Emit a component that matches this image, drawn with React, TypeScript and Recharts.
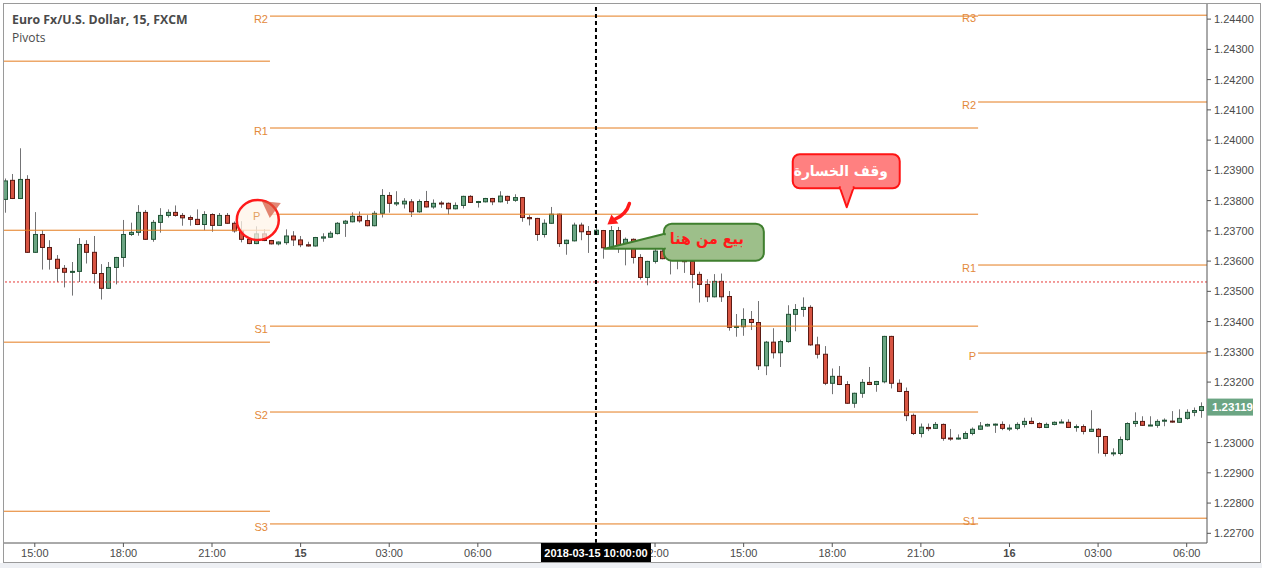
import { Bar, ComposedChart, ReferenceDot, ReferenceLine, XAxis, YAxis } from 'recharts'

// EUR/USD 15m candles, 14:00 (14 Mar) .. 06:30 (16 Mar)
const opens = [
  1.23804, 1.23867, 1.23807, 1.2387, 1.23629, 1.23688, 1.23645, 1.23606, 1.23576, 1.23563,
  1.23566, 1.23655, 1.23629, 1.23559, 1.2351, 1.23579, 1.23612, 1.23688, 1.23695, 1.23761,
  1.23672, 1.23728, 1.23751, 1.23761, 1.23751, 1.23744, 1.23738, 1.23721, 1.23754, 1.23718,
  1.23751, 1.23725, 1.237, 1.23672, 1.23658, 1.2369, 1.23668, 1.23657, 1.23661, 1.23683,
  1.2367, 1.23654, 1.2365, 1.23676, 1.23679, 1.23691, 1.23725, 1.2373, 1.23748, 1.23734,
  1.23717, 1.23758, 1.23817, 1.23789, 1.23789, 1.23796, 1.23763, 1.23797, 1.23779, 1.23792,
  1.23791, 1.23773, 1.23784, 1.23814, 1.23794, 1.23796, 1.23807, 1.23796, 1.23814, 1.23801,
  1.2381, 1.23744, 1.23741, 1.23688, 1.23725, 1.23755, 1.23658, 1.23667, 1.23719, 1.23698,
  1.23688, 1.23701, 1.23644, 1.23701, 1.23647, 1.23672, 1.23612, 1.23546, 1.23599, 1.23633,
  1.23609, 1.23631, 1.2362, 1.23599, 1.23556, 1.23523, 1.23482, 1.23533, 1.23483, 1.23381,
  1.23383, 1.23407, 1.23397, 1.23254, 1.23332, 1.23297, 1.23334, 1.23424, 1.2344, 1.23447,
  1.23323, 1.23292, 1.23196, 1.23219, 1.23192, 1.2313, 1.23163, 1.23199, 1.23192, 1.23201,
  1.23351, 1.23196, 1.23169, 1.2309, 1.2303, 1.2305, 1.23047, 1.2306, 1.23015, 1.23012,
  1.23014, 1.2303, 1.23044, 1.23055, 1.23059, 1.2306, 1.23046, 1.23047, 1.2306, 1.2307,
  1.23063, 1.2305, 1.2306, 1.23066, 1.23067, 1.2305, 1.23053, 1.23037, 1.23044, 1.2302,
  1.22964, 1.22964, 1.2301, 1.23063, 1.2307, 1.23056, 1.23057, 1.23072, 1.23071, 1.23067,
  1.2308, 1.231, 1.23106,
]
const highs = [
  1.23873, 1.23888, 1.23973, 1.23884, 1.23762, 1.23702, 1.23669, 1.2362, 1.23587, 1.23597,
  1.23676, 1.23669, 1.23683, 1.2359, 1.23597, 1.23614, 1.23736, 1.23727, 1.23785, 1.23769,
  1.23736, 1.23775, 1.23771, 1.23784, 1.23759, 1.23751, 1.23771, 1.23765, 1.23758, 1.23759,
  1.23759, 1.23731, 1.23732, 1.23674, 1.23715, 1.23706, 1.2367, 1.23665, 1.23705, 1.23699,
  1.23683, 1.23664, 1.2368, 1.23692, 1.23699, 1.23729, 1.23736, 1.23761, 1.23764, 1.23752,
  1.23766, 1.23838, 1.23828, 1.23831, 1.23808, 1.23805, 1.23804, 1.23832, 1.23804, 1.23799,
  1.23794, 1.23794, 1.23816, 1.23818, 1.23799, 1.23809, 1.23809, 1.23831, 1.23816, 1.23821,
  1.23812, 1.23752, 1.23743, 1.23738, 1.23779, 1.23757, 1.23671, 1.23727, 1.23727, 1.23716,
  1.23719, 1.23703, 1.23716, 1.23713, 1.23678, 1.23675, 1.23623, 1.23601, 1.23675, 1.23658,
  1.23658, 1.2364, 1.23625, 1.23602, 1.23565, 1.2354, 1.23557, 1.23559, 1.23501, 1.23425,
  1.23444, 1.23435, 1.23468, 1.23336, 1.23378, 1.2334, 1.23454, 1.23458, 1.2348, 1.23454,
  1.2335, 1.23319, 1.23245, 1.23253, 1.23203, 1.23165, 1.2321, 1.2325, 1.23204, 1.23353,
  1.23353, 1.23209, 1.23182, 1.23096, 1.23063, 1.23063, 1.23068, 1.23063, 1.23045, 1.23027,
  1.23037, 1.2305, 1.23068, 1.23063, 1.23063, 1.2307, 1.2306, 1.23067, 1.23082, 1.23083,
  1.23067, 1.23066, 1.2307, 1.23077, 1.23077, 1.2306, 1.2306, 1.23107, 1.23048, 1.23022,
  1.22981, 1.2302, 1.23067, 1.231, 1.23087, 1.23087, 1.23077, 1.2308, 1.23104, 1.2311,
  1.2311, 1.23116, 1.23133,
]
const lows = [
  1.2376, 1.23805, 1.23805, 1.23627, 1.23627, 1.23572, 1.23572, 1.23531, 1.23513, 1.23486,
  1.23531, 1.23592, 1.23526, 1.23473, 1.23508, 1.23523, 1.23581, 1.23683, 1.23684, 1.2367,
  1.23664, 1.23694, 1.23744, 1.23747, 1.23717, 1.23717, 1.23719, 1.23702, 1.23697, 1.23716,
  1.23723, 1.23694, 1.23662, 1.23656, 1.23656, 1.23666, 1.23655, 1.23652, 1.23654, 1.2365,
  1.23646, 1.23648, 1.23648, 1.23664, 1.23677, 1.23688, 1.2368, 1.23728, 1.23727, 1.23715,
  1.23715, 1.23744, 1.2376, 1.23782, 1.23774, 1.23746, 1.2376, 1.23777, 1.23773, 1.23776,
  1.23754, 1.23771, 1.23774, 1.23792, 1.23777, 1.23794, 1.23785, 1.23794, 1.23789, 1.23796,
  1.2373, 1.23718, 1.23667, 1.23678, 1.23723, 1.23647, 1.23621, 1.23665, 1.23669, 1.23627,
  1.23686, 1.23608, 1.23642, 1.23627, 1.23586, 1.23592, 1.23539, 1.2352, 1.23592, 1.23606,
  1.23556, 1.23573, 1.23561, 1.2351, 1.23463, 1.23465, 1.2348, 1.23465, 1.2337, 1.2335,
  1.23353, 1.23372, 1.2324, 1.23223, 1.23278, 1.2325, 1.2333, 1.23368, 1.23416, 1.2332,
  1.23278, 1.2319, 1.2316, 1.2319, 1.23128, 1.23115, 1.23148, 1.2319, 1.23168, 1.23196,
  1.23179, 1.23167, 1.23071, 1.23025, 1.23017, 1.23038, 1.23045, 1.23006, 1.23006, 1.2301,
  1.23012, 1.23024, 1.23042, 1.23053, 1.23032, 1.23041, 1.23038, 1.23041, 1.2305, 1.23061,
  1.23047, 1.23048, 1.23057, 1.23066, 1.23048, 1.23036, 1.23027, 1.23035, 1.22964, 1.22954,
  1.22955, 1.22958, 1.23006, 1.23052, 1.23055, 1.23055, 1.23049, 1.23054, 1.23066, 1.23065,
  1.23076, 1.23087, 1.23082,
]
const closes = [
  1.23865, 1.23807, 1.2387, 1.23629, 1.23688, 1.23645, 1.23606, 1.23576, 1.23563, 1.23566,
  1.23655, 1.23629, 1.23559, 1.2351, 1.23579, 1.23612, 1.23688, 1.23695, 1.23761, 1.23672,
  1.23728, 1.23751, 1.23761, 1.23751, 1.23743, 1.23738, 1.23721, 1.23754, 1.23718, 1.23751,
  1.23725, 1.237, 1.23672, 1.23658, 1.2369, 1.23668, 1.23657, 1.23663, 1.23683, 1.2367,
  1.23654, 1.2365, 1.23678, 1.2368, 1.23692, 1.23725, 1.23732, 1.23748, 1.23733, 1.23717,
  1.23758, 1.23817, 1.23791, 1.23793, 1.23798, 1.23763, 1.23797, 1.23779, 1.23791, 1.2379,
  1.23773, 1.23784, 1.23814, 1.23794, 1.23797, 1.23807, 1.23796, 1.23815, 1.23801, 1.2381,
  1.23744, 1.2374, 1.23688, 1.23725, 1.23755, 1.23658, 1.23669, 1.23719, 1.23697, 1.23688,
  1.23702, 1.23644, 1.23701, 1.23647, 1.23672, 1.23612, 1.23546, 1.23599, 1.23633, 1.23608,
  1.23631, 1.2362, 1.23598, 1.23556, 1.23523, 1.23482, 1.23533, 1.23482, 1.23381, 1.23384,
  1.23407, 1.23397, 1.23254, 1.23332, 1.23297, 1.23334, 1.23424, 1.2344, 1.23447, 1.23323,
  1.23292, 1.23196, 1.23219, 1.23192, 1.2313, 1.23163, 1.23199, 1.23192, 1.23202, 1.23351,
  1.23196, 1.23169, 1.23089, 1.2303, 1.23051, 1.23046, 1.2306, 1.23014, 1.23012, 1.23015,
  1.2303, 1.23044, 1.23055, 1.2306, 1.23061, 1.23047, 1.23048, 1.2306, 1.2307, 1.23063,
  1.2305, 1.2306, 1.23067, 1.23068, 1.2305, 1.23053, 1.23037, 1.23044, 1.2302, 1.22964,
  1.22966, 1.2301, 1.23063, 1.2307, 1.23057, 1.23058, 1.2307, 1.23074, 1.23068, 1.2308,
  1.231, 1.23106, 1.23119,
]

// time axis: candle index -> label (09:00 sits under the cursor label, so it is left out)
const timeTicks = [4, 16, 28, 40, 52, 64, 88, 100, 112, 124, 136, 148, 160]
const timeLabels = ['15:00', '18:00', '21:00', '15', '03:00', '06:00', '12:00', '15:00', '18:00', '21:00', '16', '03:00', '06:00']
const dayTicks = [40, 136]
const cursorIdx = 80
const cursorLabel = '2018-03-15 10:00:00'

// 1.23100 is covered by the last-price badge
const priceTicks = [
  1.227, 1.228, 1.229, 1.23, 1.232, 1.233, 1.234, 1.235,
  1.236, 1.237, 1.238, 1.239, 1.24, 1.241, 1.242, 1.243, 1.244,
]
const lastPrice = 1.23119
const prevClose = 1.23531

// pivot sessions: [start index, end index]
const sessions = [
  [-0.17, 35.85],
  [35.85, 131.75],
  [131.75, 162.75],
]
const day1Names = ['R1', 'P', 'S1', 'S2']
const day1Levels = [1.24261, 1.23702, 1.23332, 1.22773]
const day2Names = ['R2', 'R1', 'P', 'S1', 'S2', 'S3']
const day2Levels = [1.2441, 1.2404, 1.23755, 1.23385, 1.23101, 1.22731]
const day3Names = ['R3', 'R2', 'R1', 'P', 'S1']
const day3Levels = [1.24413, 1.24126, 1.23587, 1.23296, 1.2275]

// annotations anchored in data space
const stopNote = { i: 113.96, price: 1.23778, text: 'وقف الخسارة' }
const sellNote = { i: 81.2, price: 1.23641, text: 'بيع من هنا' }
const arrowNote = { i: 81.55, price: 1.23721 }
const pivotRing = { i: 34.2, price: 1.23736 }

const UP = '#6ba583'
const UP_EDGE = '#225437'
const DOWN = '#d75442'
const DOWN_EDGE = '#5b1a13'
const PIVOT = '#e47c1e'
const AXIS_FONT = '"Liberation Sans", Arial, sans-serif'
const ARABIC_FONT = '"DejaVu Sans", sans-serif'

const data = opens.map((o, i) => ({
  i,
  o,
  h: highs[i],
  l: lows[i],
  c: closes[i],
  range: [lows[i], highs[i]],
}))

function Candle(props: any) {
  const { x, y, width, height, payload } = props
  const top = Math.min(y, y + height)
  const span = Math.abs(height)
  const { o, c, h, l } = payload
  const k = h > l ? span / (h - l) : 0
  const py = (v: number) => top + (h - v) * k
  const cx = Math.round(x + width / 2) + 0.5
  const up = c >= o
  const bTop = py(Math.max(o, c))
  const bBot = py(Math.min(o, c))
  return (
    <g>
      <line x1={cx} x2={cx} y1={top} y2={top + span} stroke="#737375" />
      <rect
        x={cx - 2}
        y={bTop}
        width={4}
        height={Math.max(bBot - bTop, 1)}
        fill={up ? UP : DOWN}
        stroke={up ? UP_EDGE : DOWN_EDGE}
      />
    </g>
  )
}

function TimeTick(props: any) {
  const { x, y, payload } = props
  const v = payload.value
  if (v === cursorIdx) {
    return (
      <g>
        <rect x={x - 55} y={y - 4} width={110} height={19} fill="#000" />
        <text x={x} y={y + 10} textAnchor="middle" fill="#fff" fontSize={11} fontWeight="bold" fontFamily={AXIS_FONT}>
          {cursorLabel}
        </text>
      </g>
    )
  }
  const label = timeLabels[timeTicks.indexOf(v)]
  return (
    <g>
      <line x1={x} x2={x} y1={y - 4} y2={y} stroke="#555" />
      <text
        x={x}
        y={y + 10}
        textAnchor="middle"
        fill="#4a4a4a"
        fontSize={11}
        fontWeight={dayTicks.includes(v) ? 'bold' : 'normal'}
        fontFamily={AXIS_FONT}
      >
        {label}
      </text>
    </g>
  )
}

function PriceTick(props: any) {
  const { x, y, payload } = props
  const v = payload.value
  if (v === lastPrice) {
    return (
      <g>
        <rect x={x - 4} y={y - 8} width={46} height={17} fill={UP} />
        <text x={x + 1} y={y + 4} fill="#fff" fontSize={11.5} fontWeight="bold" fontFamily={AXIS_FONT}>
          {v.toFixed(5)}
        </text>
      </g>
    )
  }
  return (
    <g>
      <line x1={x - 4} x2={x} y1={y} y2={y} stroke="#555" />
      <text x={x + 3} y={y + 4} fill="#4a4a4a" fontSize={11} fontFamily={AXIS_FONT}>
        {v.toFixed(5)}
      </text>
    </g>
  )
}

function pivotLabel(name: string) {
  return (p: any) => {
    const vb = p.viewBox || {}
    return (
      <text x={vb.x - 2} y={vb.y + 7} textAnchor="end" fill="#e3893a" fontSize={11} fontFamily={AXIS_FONT}>
        {name}
      </text>
    )
  }
}

function StopLossShape(p: any) {
  const { cx, cy } = p
  return (
    <g transform={`translate(${cx},${cy})`}>
      <rect x={-54} y={-53} width={107} height={34} rx={7} fill="#ff8080" stroke="#ff1414" strokeWidth={2} />
      <polygon points="-7,-20 0,0 7,-20" fill="#ff8080" stroke="#ff1414" strokeWidth={2} strokeLinejoin="round" />
      <rect x={-6} y={-23} width={12} height={5} fill="#ff8080" />
      <text
        x={-6}
        y={-31}
        textAnchor="middle"
        fill="#fff"
        fontSize={15}
        fontWeight="bold"
        fontFamily={ARABIC_FONT}
        textLength={94}
        lengthAdjust="spacingAndGlyphs"
      >
        {stopNote.text}
      </text>
    </g>
  )
}

function SellShape(p: any) {
  const { cx, cy } = p
  return (
    <g transform={`translate(${cx},${cy})`}>
      <rect x={59} y={-25} width={100} height={37} rx={8} fill="#9dbf8a" stroke="#3f7f2e" strokeWidth={2} />
      <polygon points="0,0 60,-15 60,0" fill="#9dbf8a" stroke="#3f7f2e" strokeWidth={2} strokeLinejoin="round" />
      <rect x={58} y={-13.5} width={4} height={12.5} fill="#9dbf8a" />
      <text
        x={102}
        y={-5}
        textAnchor="middle"
        fill="#ff1a1a"
        fontSize={16}
        fontWeight="bold"
        fontFamily={ARABIC_FONT}
        textLength={74}
        lengthAdjust="spacingAndGlyphs"
      >
        {sellNote.text}
      </text>
    </g>
  )
}

function ArrowShape(p: any) {
  const { cx, cy } = p
  return (
    <g transform={`translate(${cx},${cy})`}>
      <path d="M22,-21 Q19,-10 7,-5" fill="none" stroke="#ff1a1a" strokeWidth={3.5} strokeLinecap="round" />
      <polygon points="0,0 11,-1 4,-10" fill="#ff1a1a" />
    </g>
  )
}

function RingShape(p: any) {
  const { cx, cy } = p
  return (
    <g transform={`translate(${cx},${cy})`}>
      <ellipse cx={0} cy={0} rx={21} ry={20} fill="rgba(255,244,232,0.75)" stroke="#ff1a1a" strokeWidth={2.5} />
      <polygon points="4,-19 23,-17 12,-2" fill="rgba(214,84,58,0.7)" />
      <text x={-1} y={0} textAnchor="middle" fill="#e3a060" fontSize={11} fontFamily={AXIS_FONT}>
        P
      </text>
    </g>
  )
}

export default function App() {
  const pivotLines: any[] = []
  const groups = [
    { names: day1Names, levels: day1Levels, range: sessions[0], labels: false },
    { names: day2Names, levels: day2Levels, range: sessions[1], labels: true },
    { names: day3Names, levels: day3Levels, range: sessions[2], labels: true },
  ]
  groups.forEach((g, gi) => {
    g.levels.forEach((lv, li) => {
      pivotLines.push(
        <ReferenceLine
          key={`pv-${gi}-${li}`}
          segment={[
            { x: g.range[0], y: lv },
            { x: g.range[1], y: lv },
          ]}
          stroke={PIVOT}
          strokeWidth={1}
          ifOverflow="visible"
          label={g.labels && !(gi === 1 && g.names[li] === 'P') ? pivotLabel(g.names[li]) : undefined}
        />,
      )
    })
  })

  return (
    <div style={{ position: 'absolute', left: 0, top: 0, width: 1262, height: 568, background: '#fff', overflow: 'hidden' }}>
      <div style={{ position: 'absolute', left: 0, top: 563, width: 1262, height: 5, background: '#eef0f4' }} />
      <div
        style={{
          position: 'absolute',
          left: 3,
          top: 3,
          width: 1258,
          height: 560,
          boxSizing: 'border-box',
          border: '1px solid #9a9a9a',
        }}
      />
      <div style={{ position: 'absolute', left: 3, top: 3 }}>
        <ComposedChart width={1258} height={560} data={data} margin={{ top: 1, right: 0, left: 1, bottom: 0 }}>
          <XAxis
            dataKey="i"
            type="number"
            domain={[-0.17, 162.75]}
            allowDataOverflow
            ticks={[...timeTicks, cursorIdx]}
            interval={0}
            tick={<TimeTick />}
            tickLine={false}
            tickSize={4}
            tickMargin={0}
            axisLine={{ stroke: '#555' }}
            height={20}
          />
          <YAxis
            orientation="right"
            type="number"
            domain={[1.22668, 1.2445]}
            allowDataOverflow
            ticks={[...priceTicks, lastPrice]}
            interval={0}
            tick={<PriceTick />}
            tickLine={false}
            tickSize={4}
            tickMargin={0}
            axisLine={{ stroke: '#555' }}
            width={54}
          />
          {pivotLines}
          <ReferenceLine y={prevClose} stroke="#e53935" strokeDasharray="2 2" ifOverflow="visible" />
          <ReferenceLine x={cursorIdx} stroke="#000" strokeWidth={2} strokeDasharray="4 3" ifOverflow="visible" />
          <Bar dataKey="range" barSize={5} shape={<Candle />} isAnimationActive={false} />
          <ReferenceDot x={pivotRing.i} y={pivotRing.price} ifOverflow="visible" shape={(p: any) => <RingShape {...p} />} />
          <ReferenceDot x={arrowNote.i} y={arrowNote.price} ifOverflow="visible" shape={(p: any) => <ArrowShape {...p} />} />
          <ReferenceDot x={sellNote.i} y={sellNote.price} ifOverflow="visible" shape={(p: any) => <SellShape {...p} />} />
          <ReferenceDot x={stopNote.i} y={stopNote.price} ifOverflow="visible" shape={(p: any) => <StopLossShape {...p} />} />
        </ComposedChart>
      </div>
      <div
        style={{
          position: 'absolute',
          left: 12,
          top: 11,
          fontFamily: '"Open Sans", sans-serif',
          color: '#4a4a4a',
          lineHeight: '18px',
        }}
      >
        <div style={{ fontSize: 12.3, fontWeight: 'bold' }}>Euro Fx/U.S. Dollar, 15, FXCM</div>
        <div style={{ fontSize: 12 }}>Pivots</div>
      </div>
    </div>
  )
}
